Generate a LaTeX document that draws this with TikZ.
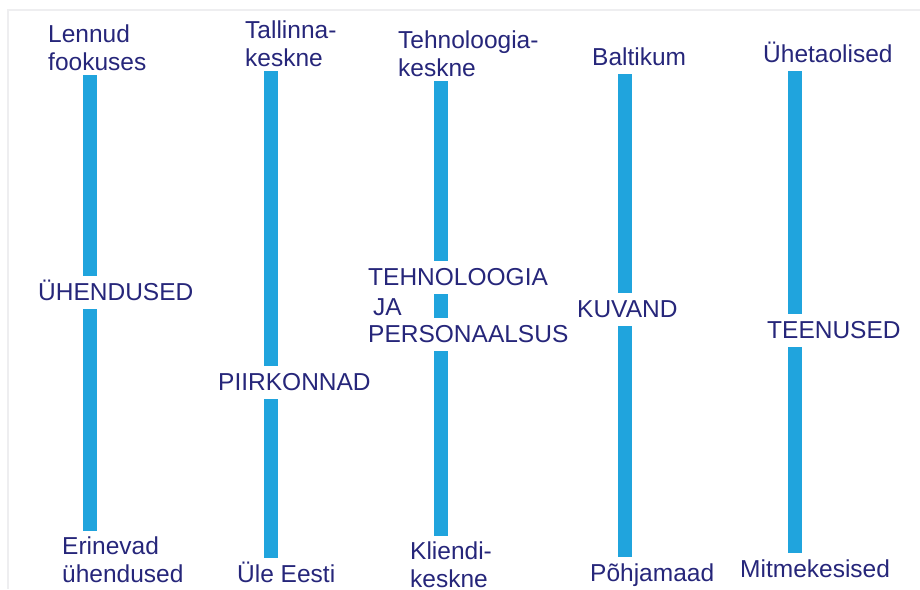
\documentclass[tikz,border=0pt]{standalone}
\usepackage{fontspec}
\setmainfont{Liberation Sans}
\usepackage{tikz}
\definecolor{text_navy}{RGB}{38,38,122}
\definecolor{bar_blue}{RGB}{32,164,221}
\definecolor{frame_gray}{RGB}{238,238,240}

\begin{document}
\begin{tikzpicture}[x=1pt,y=-1pt]
    \tikzstyle{lbl}=[font=\fontsize{24.5}{28}\selectfont, text=text_navy, anchor=base west,
                     inner xsep=0pt, inner ysep=6pt, text height=18pt, text depth=3pt]
    \tikzstyle{lbltwo}=[font=\fontsize{24.5}{28}\selectfont, text=text_navy, anchor=base west,
                        align=left, inner xsep=0pt, inner ysep=5pt]
    \tikzstyle{bar}=[draw=bar_blue, line width=14pt]

    \useasboundingbox (0,0) rectangle (920,589);
    \draw[frame_gray, line width=2pt] (8,589) -- (8,10) -- (920,10);

    % bar positions
    \coordinate (b1) at (90,0);
    \coordinate (b2) at (271,0);
    \coordinate (b3) at (441,0);
    \coordinate (b4) at (625,0);
    \coordinate (b5) at (795,0);

    % top labels (two-line nodes sit on their last line)
    \node[lbltwo] (lennud)   at (48,70)  {Lennud\\fookuses};
    \node[lbltwo] (tallinna) at (245,66) {Tallinna-\\keskne};
    \node[lbltwo] (tehno)    at (398,76) {Tehnoloogia-\\keskne};
    \node[lbl]    (baltikum) at (592,65) {Baltikum};
    \node[lbl]    (yhetaol)  at (763,62) {Ühetaolised};

    % middle labels
    \node[lbl] (yhendused)  at (38,300)  {ÜHENDUSED};
    \node[lbl] (piirkonnad) at (218,390) {PIIRKONNAD};
    \node[lbl] (tehnoA)     at (368,285) {TEHNOLOOGIA};
    \node[lbl] (tehnoB)     at (373,315) {JA};
    \node[lbl] (tehnoC)     at (368,342) {PERSONAALSUS};
    \node[lbl] (kuvand)     at (577,317) {KUVAND};
    \node[lbl] (teenused)   at (767,338) {TEENUSED};

    % bottom labels
    \node[lbltwo] (erinevad) at (62,582)  {Erinevad\\ühendused};
    \node[lbl]    (yleeesti) at (237,582) {Üle Eesti};
    \node[lbltwo] (kliendi)  at (410,587) {Kliendi-\\keskne};
    \node[lbl]    (pohja)    at (590,581) {Põhjamaad};
    \node[lbl]    (mitme)    at (740,577) {Mitmekesised};

    \path
     (lennud.south -| b1)     edge[bar] (yhendused.north -| b1)
     (yhendused.south -| b1)  edge[bar] (erinevad.north -| b1)
     (tallinna.south -| b2)   edge[bar] (piirkonnad.north -| b2)
     (piirkonnad.south -| b2) edge[bar] (yleeesti.north -| b2)
     (tehno.south -| b3)      edge[bar] (tehnoA.north -| b3)
     (tehnoA.south -| b3)     edge[bar] (tehnoC.north -| b3)
     (tehnoC.south -| b3)     edge[bar] (kliendi.north -| b3)
     (baltikum.south -| b4)   edge[bar] (kuvand.north -| b4)
     (kuvand.south -| b4)     edge[bar] (pohja.north -| b4)
     (yhetaol.south -| b5)    edge[bar] (teenused.north -| b5)
     (teenused.south -| b5)   edge[bar] (mitme.north -| b5)
     ;
\end{tikzpicture}
\end{document}
